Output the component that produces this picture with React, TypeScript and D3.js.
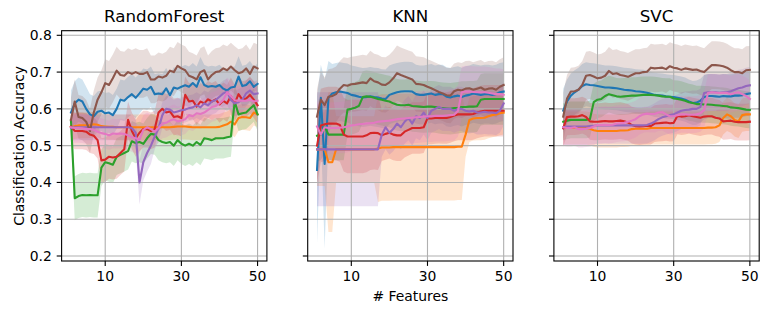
import * as d3 from "d3";

// mean accuracy per number of features (x = 1..50), one array per model/series
const rfBlue = [.59,.615,.625,.62,.60,.585,.58,.592,.595,.588, .59,.583,.60,.625,.622,.632,.64,.63,.642,.655, .652,.66,.64,.642,.64,.656,.637,.658,.655,.66, .664,.66,.67,.66,.686,.665,.66,.662,.66,.665, .655,.65,.658,.66,.688,.662,.665,.675,.66,.668];
const rfOrange = [.55,.553,.555,.555,.555,.556,.558,.557,.553,.552, .551,.551,.55,.55,.55,.55,.55,.55,.55,.55, .55,.55,.55,.55,.55,.55,.55,.551,.552,.552, .552,.551,.55,.55,.55,.55,.55,.55,.55,.551, .555,.558,.565,.558,.575,.578,.577,.575,.59,.585];
const rfGreen = [.57,.357,.363,.366,.365,.366,.365,.365,.44,.455, .452,.448,.47,.475,.48,.485,.512,.507,.51,.505, .52,.532,.53,.515,.51,.507,.51,.50,.515,.505, .50,.505,.50,.51,.502,.52,.518,.515,.52,.52, .52,.523,.525,.62,.585,.588,.59,.60,.61,.585];
const rfRed = [.552,.54,.54,.54,.538,.53,.527,.515,.46,.462, .47,.468,.47,.48,.49,.57,.54,.52,.535,.545, .545,.54,.545,.59,.60,.59,.593,.578,.58,.575, .638,.62,.622,.606,.62,.615,.626,.62,.626,.612, .622,.615,.635,.615,.64,.625,.628,.638,.625,.61];
const rfPurple = [.548,.55,.55,.55,.55,.55,.55,.55,.55,.55, .55,.55,.55,.55,.55,.55,.548,.535,.40,.455, .48,.50,.525,.547,.583,.60,.598,.59,.593,.596, .598,.602,.604,.61,.604,.615,.61,.62,.624,.633, .642,.647,.624,.615,.618,.625,.642,.65,.64,.642];
const rfBrown = [.57,.62,.578,.575,.565,.54,.59,.625,.645,.67, .665,.683,.704,.692,.69,.70,.695,.70,.695,.695, .70,.68,.68,.688,.685,.69,.704,.70,.717,.71, .705,.69,.686,.68,.70,.705,.68,.692,.70,.702, .71,.705,.715,.705,.697,.70,.71,.695,.715,.71];
const rfPink = [.55,.548,.548,.547,.545,.545,.543,.538,.534,.532, .528,.533,.532,.533,.532,.528,.523,.52,.516,.543, .55,.545,.538,.548,.56,.562,.568,.572,.566,.568, .572,.583,.58,.588,.586,.59,.597,.605,.608,.615, .624,.645,.635,.623,.622,.622,.622,.625,.62,.622];

const knnBlue = [.434,.63,.45,.63,.642,.645,.647,.645,.643,.638, .636,.633,.631,.632,.634,.632,.631,.628,.627,.638, .642,.645,.647,.648,.648,.647,.64,.638,.638,.64, .642,.638,.64,.64,.633,.631,.634,.636,.632,.636, .638,.642,.64,.638,.64,.64,.638,.64,.645,.647];
const knnOrange = [.49,.49,.49,.455,.455,.49,.49,.49,.49,.49, .49,.49,.49,.49,.49,.49,.492,.495,.495,.495, .496,.496,.496,.496,.496,.496,.496,.496,.496,.496, .496,.496,.496,.496,.496,.496,.496,.497,.497,.53, .57,.574,.575,.575,.576,.58,.583,.585,.588,.59];
const knnGreen = [.527,.53,.552,.53,.53,.53,.53,.53,.598,.60, .603,.608,.632,.634,.633,.63,.627,.625,.622,.62, .615,.611,.61,.61,.611,.608,.607,.606,.605,.606, .606,.605,.603,.602,.601,.60,.602,.603,.605,.605, .606,.606,.607,.625,.627,.627,.627,.627,.627,.627];
const knnRed = [.50,.555,.558,.56,.56,.56,.556,.53,.525,.525, .525,.525,.525,.528,.534,.535,.534,.528,.532,.535, .53,.528,.528,.538,.543,.548,.548,.548,.55,.574, .574,.575,.576,.575,.575,.578,.582,.585,.585,.585, .585,.586,.59,.593,.595,.595,.595,.595,.595,.595];
const knnPurple = [.49,.49,.49,.49,.49,.49,.49,.49,.49,.49, .49,.49,.49,.49,.49,.49,.49,.53,.55,.535, .545,.56,.55,.565,.575,.56,.58,.575,.59,.575, .595,.60,.605,.60,.60,.60,.595,.60,.60,.595, .593,.595,.59,.59,.592,.59,.59,.588,.595,.615];
const knnBrown = [.579,.625,.61,.633,.635,.64,.655,.665,.663,.667, .668,.67,.672,.67,.683,.675,.672,.666,.665,.672, .683,.697,.692,.688,.684,.68,.668,.667,.665,.66, .656,.651,.646,.642,.637,.636,.648,.652,.65,.655, .656,.652,.655,.658,.652,.655,.656,.652,.66,.665];
const knnPink = [.552,.53,.55,.548,.548,.548,.549,.55,.552,.555, .556,.558,.559,.56,.561,.562,.565,.566,.567,.568, .57,.572,.573,.574,.575,.576,.577,.578,.579,.58, .58,.581,.581,.581,.582,.583,.584,.594,.645,.647, .647,.646,.645,.645,.645,.644,.642,.64,.64,.638];

const svcBlue = [.595,.62,.636,.645,.652,.662,.667,.665,.664,.662, .66,.658,.658,.657,.656,.654,.652,.651,.65,.648, .647,.646,.644,.641,.638,.637,.636,.634,.633,.632, .63,.628,.625,.62,.616,.617,.622,.632,.635,.635, .634,.633,.635,.634,.634,.636,.636,.637,.64,.642];
const svcOrange = [.548,.548,.548,.548,.548,.548,.548,.546,.542,.54, .54,.54,.54,.54,.54,.541,.541,.542,.545,.546, .546,.546,.546,.548,.548,.548,.548,.548,.548,.548, .548,.548,.548,.548,.548,.548,.548,.548,.549,.549, .55,.555,.575,.585,.58,.57,.566,.583,.585,.585];
const svcGreen = [.565,.568,.57,.57,.57,.57,.57,.572,.618,.625, .627,.635,.64,.637,.634,.633,.634,.635,.636,.636, .637,.638,.638,.638,.637,.636,.634,.633,.633,.628, .627,.625,.622,.618,.616,.613,.613,.612,.612,.611, .61,.609,.608,.607,.604,.603,.602,.60,.598,.597];
const svcRed = [.547,.578,.579,.579,.58,.583,.578,.566,.565,.565, .566,.567,.566,.566,.567,.568,.566,.563,.556,.553, .552,.553,.554,.553,.56,.561,.562,.563,.561,.562, .581,.579,.58,.583,.58,.578,.576,.579,.58,.58, .576,.574,.566,.567,.568,.565,.564,.564,.564,.565];
const svcPurple = [.55,.552,.552,.552,.552,.552,.552,.553,.554,.555, .555,.555,.555,.555,.555,.555,.555,.555,.555,.555, .555,.555,.556,.56,.565,.572,.577,.58,.583,.585, .59,.595,.597,.598,.60,.60,.605,.643,.645,.645, .645,.644,.645,.645,.648,.652,.656,.658,.662,.664];
const svcBrown = [.579,.628,.647,.648,.652,.665,.69,.692,.688,.683, .685,.69,.703,.695,.697,.692,.69,.687,.692,.697, .697,.70,.701,.712,.71,.711,.712,.708,.716,.712, .71,.706,.71,.708,.706,.707,.703,.70,.71,.719, .719,.718,.716,.712,.705,.70,.70,.697,.705,.706];
const svcPink = [.55,.548,.548,.55,.545,.545,.546,.548,.552,.556, .556,.557,.556,.557,.56,.561,.562,.565,.568,.572, .58,.585,.587,.586,.586,.59,.591,.585,.58,.58, .583,.585,.585,.584,.584,.585,.588,.597,.643,.645, .644,.643,.644,.643,.64,.643,.645,.64,.635,.627];

// std-dev bands, as [fromFeature, toFeature, sd] runs, series order blue..pink
const rfSd = [
  [[1, 5, .06], [6, 50, .055]],
  [[1, 50, .035]],
  [[1, 1, .04], [2, 8, .06], [9, 16, .05], [17, 43, .055], [44, 50, .045]],
  [[1, 8, .05], [9, 15, .06], [16, 50, .05]],
  [[1, 17, .035], [18, 18, .045], [19, 19, .06], [20, 22, .05], [23, 50, .035]],
  [[1, 9, .06], [10, 50, .065]],
  [[1, 50, .04]],
];
const knnSd = [
  [[1, 1, .2], [2, 2, .09], [3, 3, .23], [4, 4, .1], [5, 50, .08]],
  [[1, 3, .1], [4, 5, .19], [6, 16, .09], [17, 39, .145], [40, 50, .06]],
  [[1, 50, .07]],
  [[1, 17, .1], [18, 50, .07]],
  [[1, 17, .155], [18, 50, .06]],
  [[1, 50, .075]],
  [[1, 50, .07]],
];
const svcSd = [
  [[1, 50, .06]],
  [[1, 50, .045]],
  [[1, 50, .05]],
  [[1, 50, .05]],
  [[1, 50, .05]],
  [[1, 50, .065]],
  [[1, 50, .05]],
];

const models = ["RandomForest", "KNN", "SVC"];
const modelMeans = [
  [rfBlue, rfOrange, rfGreen, rfRed, rfPurple, rfBrown, rfPink],
  [knnBlue, knnOrange, knnGreen, knnRed, knnPurple, knnBrown, knnPink],
  [svcBlue, svcOrange, svcGreen, svcRed, svcPurple, svcBrown, svcPink],
];
const modelSds = [rfSd, knnSd, svcSd];
const colors = ["#1f77b4", "#ff7f0e", "#2ca02c", "#d62728", "#9467bd", "#8c564b", "#e377c2"];
const xTicks = [10, 30, 50];
const yTicks = [0.2, 0.3, 0.4, 0.5, 0.6, 0.7, 0.8];

const W = 772;
const H = 314;
const top = 30.7;
const bottom = 261;
const panelW = 205.3;
const lefts = [61.6, 307.7, 553.9];
const font = "DejaVu Sans, sans-serif";
const tickLen = 4.9;

const y = d3.scaleLinear().domain([0.1864, 0.8125]).range([bottom, top]);

function sdAt(segs: number[][], n: number) {
  for (const [a, b, s] of segs) if (n >= a && n <= b) return s;
  return 0;
}

function Panel({ i }: { i: number }) {
  const left = lefts[i];
  const x = d3.scaleLinear().domain([-1.45, 52.45]).range([left, left + panelW]);
  const means = modelMeans[i];
  const sds = modelSds[i];

  const line = d3.line<number>().x((_, k) => x(k + 1)).y((v) => y(v));

  return (
    <g>
      <defs>
        <clipPath id={`clip${i}`}>
          <rect x={left} y={top} width={panelW} height={bottom - top} />
        </clipPath>
      </defs>
      <g clipPath={`url(#clip${i})`}>
        {means.map((m, s) => {
          const area = d3
            .area<number>()
            .x((_, k) => x(k + 1))
            .y0((v, k) => y(v - sdAt(sds[s], k + 1)))
            .y1((v, k) => y(v + sdAt(sds[s], k + 1)));
          return <path key={`a${s}`} d={area(m) ?? ""} fill={colors[s]} fillOpacity={0.2} />;
        })}
        {yTicks.map((t) => (
          <line key={`gy${t}`} x1={left} x2={left + panelW} y1={y(t)} y2={y(t)} stroke="#b0b0b0" strokeWidth={1.1} />
        ))}
        {xTicks.map((t) => (
          <line key={`gx${t}`} x1={x(t)} x2={x(t)} y1={top} y2={bottom} stroke="#b0b0b0" strokeWidth={1.1} />
        ))}
        {means.map((m, s) => (
          <path key={`l${s}`} d={line(m) ?? ""} fill="none" stroke={colors[s]} strokeWidth={2.1} strokeLinejoin="round" strokeLinecap="square" />
        ))}
      </g>
      <rect x={left} y={top} width={panelW} height={bottom - top} fill="none" stroke="#000" strokeWidth={1.1} />
      {yTicks.map((t) => (
        <g key={`ty${t}`}>
          <line x1={left - tickLen} x2={left} y1={y(t)} y2={y(t)} stroke="#000" strokeWidth={1.1} />
          {i === 0 && (
            <text x={left - tickLen - 4.9} y={y(t)} dy="0.35em" textAnchor="end" fontSize={13.9} fontFamily={font} fill="#000">
              {d3.format(".1f")(t)}
            </text>
          )}
        </g>
      ))}
      {xTicks.map((t) => (
        <g key={`tx${t}`}>
          <line x1={x(t)} x2={x(t)} y1={bottom} y2={bottom + tickLen} stroke="#000" strokeWidth={1.1} />
          <text x={x(t)} y={281} textAnchor="middle" fontSize={13.9} fontFamily={font} fill="#000">
            {t}
          </text>
        </g>
      ))}
      <text x={left + panelW / 2} y={21.5} textAnchor="middle" fontSize={16.7} fontFamily={font} fill="#000">
        {models[i]}
      </text>
    </g>
  );
}

export default function App() {
  return (
    <svg width={W} height={H} style={{ position: "absolute", left: 0, top: 0 }} viewBox={`0 0 ${W} ${H}`}>
      <rect width={W} height={H} fill="#fff" />
      {models.map((_, i) => (
        <Panel key={i} i={i} />
      ))}
      <text
        transform={`translate(24, ${(top + bottom) / 2}) rotate(-90)`}
        textAnchor="middle"
        fontSize={13.9}
        fontFamily={font}
        fill="#000"
      >
        Classification Accuracy
      </text>
      <text x={lefts[1] + panelW / 2} y={301} textAnchor="middle" fontSize={13.9} fontFamily={font} fill="#000">
        # Features
      </text>
    </svg>
  );
}
